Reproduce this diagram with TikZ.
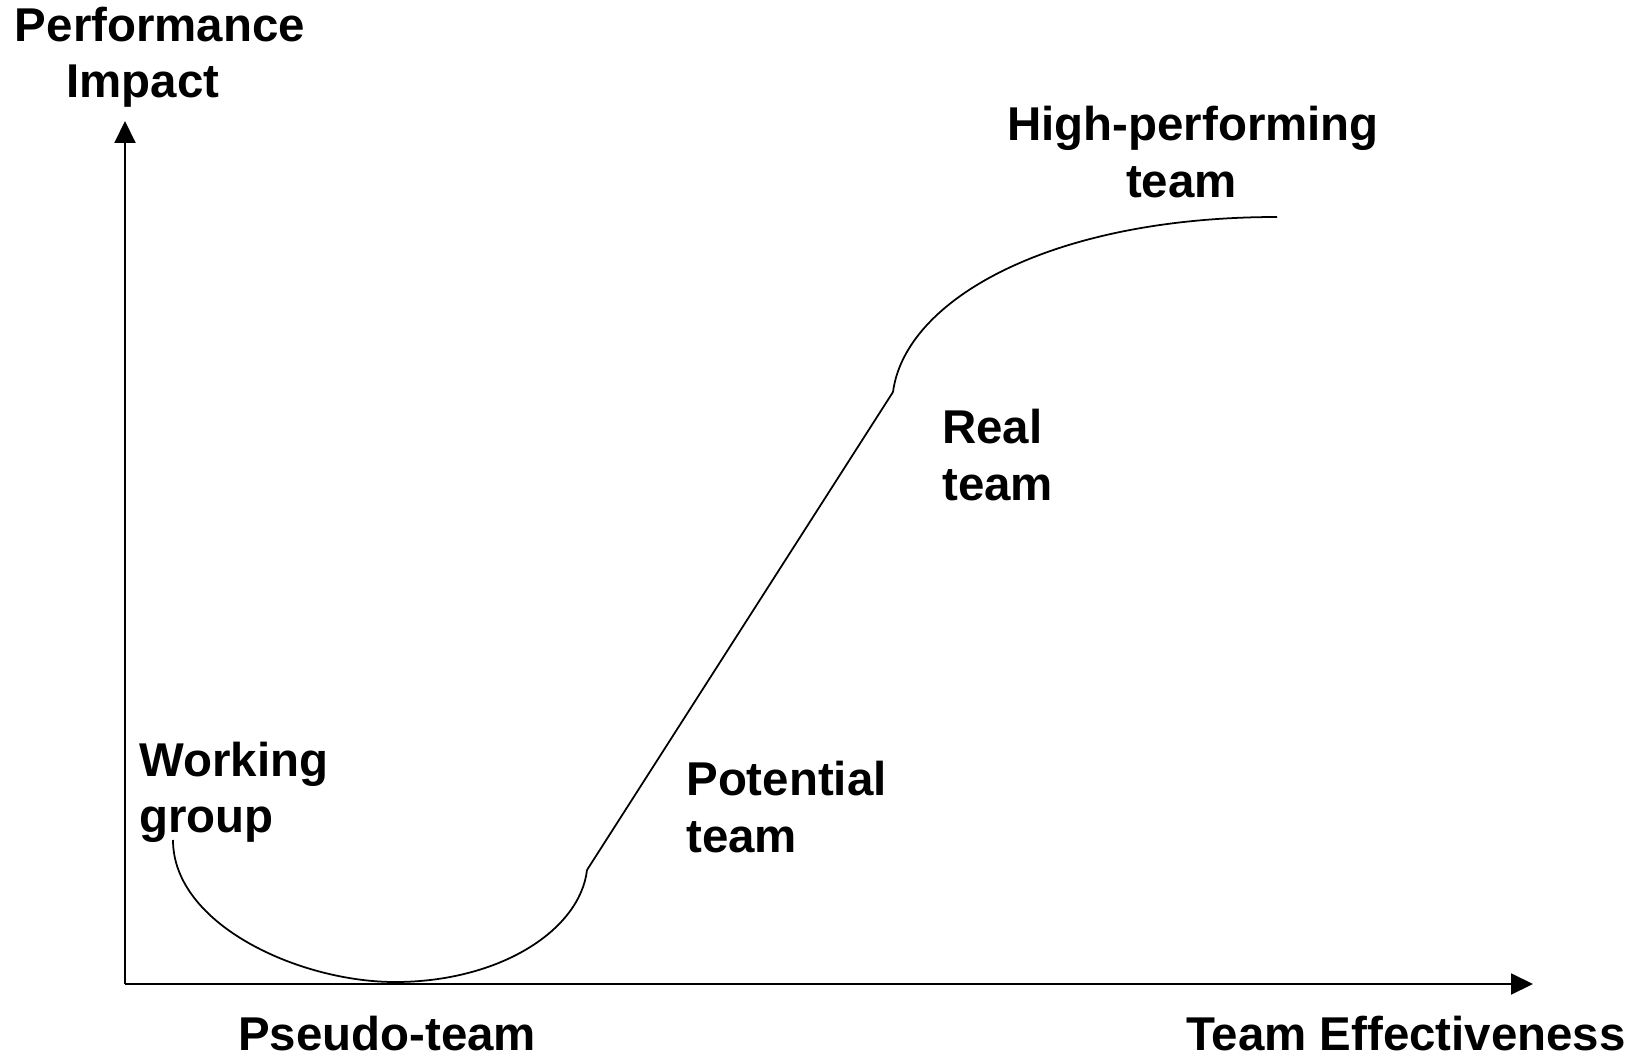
\documentclass[tikz,border=0pt]{standalone}
\usepackage{fontspec}
\setmainfont{Liberation Sans}
\usetikzlibrary{arrows.meta}
\begin{document}
\begin{tikzpicture}[
    x=0.02cm, y=-0.02cm,
    axis/.style={-{Triangle[length=0.44cm, width=0.42cm]}, line width=1.1pt},
    curve/.style={line width=1pt},
    label/.style={font=\fontsize{27}{32}\selectfont\bfseries, inner sep=0pt}
  ]
    \useasboundingbox (0,0) rectangle (1636,1057);

    % Axes
    \coordinate (origin) at (125,984);
    \coordinate (ytip) at (125,121);
    \coordinate (xtip) at (1533,984);
    \draw[axis] (origin) -- (ytip);
    \draw[axis] (origin) -- (xtip);

    % Curve points
    \coordinate (work) at (173,840);
    \coordinate (pseudo) at (395,982);
    \coordinate (potential) at (587,870);
    \coordinate (real) at (893,392);
    \coordinate (high) at (1277,217);

    % Performance curve
    \draw[curve] (work) .. controls (173,925) and (300,982) .. (pseudo);
    \draw[curve] (pseudo) .. controls (500,982) and (580,930) .. (potential);
    \draw[curve] (potential) -- (real);
    \draw[curve] (real) .. controls (905,300) and (1050,217) .. (high);

    % Labels
    \node[label, align=center] (yname) at (160,57) {Performance\\Impact\hspace*{0.68cm}};
    \node[label] (xname) at (1406,1034) {Team Effectiveness};
    \node[label, align=left, anchor=west] (worklbl) at (139,792) {Working\\group};
    \node[label] (pseudolbl) at (387,1034) {Pseudo-team};
    \node[label, align=left, anchor=west] (potentiallbl) at (686,807) {Potential\\team};
    \node[label, align=left, anchor=west] (reallbl) at (942,455) {Real\\team};
    \node[label, align=center] (highlbl) at (1193,152) {High-performing\\team\hspace*{0.46cm}};

  \end{tikzpicture}
\end{document}
